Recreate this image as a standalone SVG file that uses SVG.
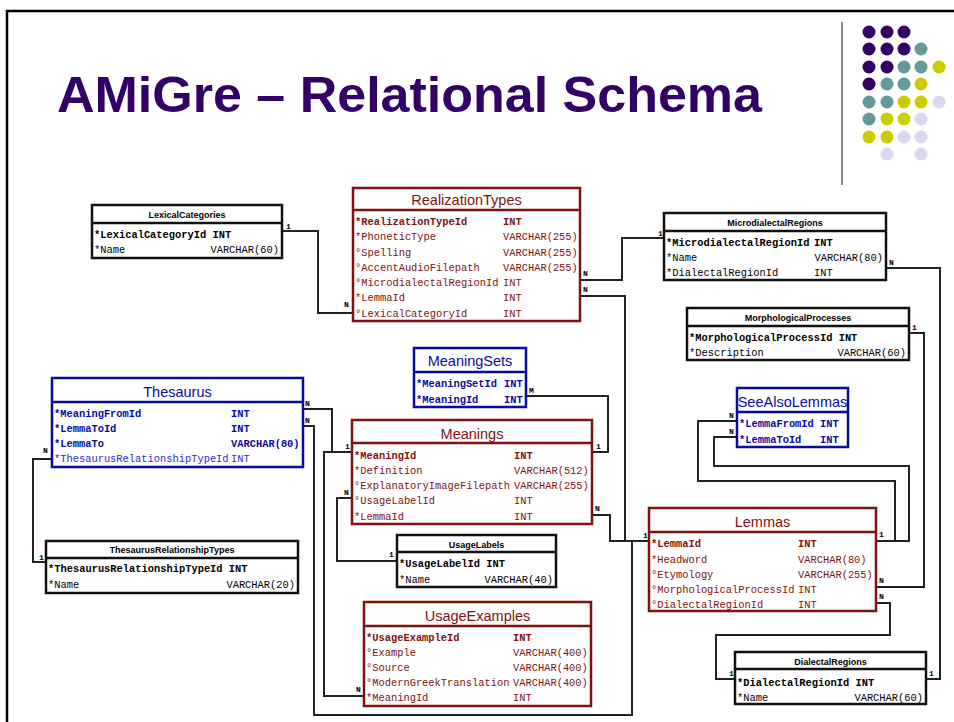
<svg xmlns="http://www.w3.org/2000/svg" width="954" height="722" viewBox="0 0 954 722">
<style>
.bg{fill:#fff}
.frame{fill:none;stroke:#000;stroke-width:2.5}
.title{font-family:"Liberation Sans",Arial,sans-serif;font-weight:bold;font-size:50px;fill:#330066}
.box{fill:#fff;stroke-width:2.5}
.red .box,.red .sep{stroke:#7f1111}
.blue .box,.blue .sep{stroke:#0a0a9e}
.blk .box,.blk .sep{stroke:#111}
.sep{stroke-width:2.5}
.ht{font-family:"Liberation Sans",Arial,sans-serif;font-size:14.5px;text-anchor:middle}
.hb{font-family:"Liberation Sans",Arial,sans-serif;font-size:9px;font-weight:bold;text-anchor:middle;fill:#000}
.red .ht,.red .f{fill:#7f1111}
.blue .ht,.blue .f{fill:#0a0a9e}
.blk .f{fill:#000}
.f{font-family:"Liberation Mono","Courier New",monospace;font-size:10.4px}
.pk{font-weight:bold}
.fk{fill:#2a2ad0 !important}
.end{text-anchor:end}
.con path{fill:none;stroke:#222;stroke-width:2}
.lb{font-family:"Liberation Mono","Courier New",monospace;font-size:8px;font-weight:bold;fill:#000}
</style>
<rect class="bg" x="0" y="0" width="954" height="722"/>
<path class="frame" d="M7,722 V11 H954"/>
<text class="title" x="57" y="112" textLength="705" lengthAdjust="spacingAndGlyphs">AMiGre – Relational Schema</text>
<line x1="842" y1="22" x2="842" y2="185" stroke="#666" stroke-width="1.5"/>
<g id="dots">
<g fill="#330066">
<circle cx="869" cy="32" r="6.5"/><circle cx="887" cy="32" r="6.5"/><circle cx="904" cy="32" r="6.5"/>
<circle cx="869" cy="49" r="6.5"/><circle cx="887" cy="49" r="6.5"/><circle cx="904" cy="49" r="6.5"/>
<circle cx="869" cy="67" r="6.5"/><circle cx="887" cy="67" r="6.5"/>
<circle cx="869" cy="84" r="6.5"/>
</g>
<g fill="#669999">
<circle cx="921" cy="49" r="6.5"/>
<circle cx="904" cy="67" r="6.5"/><circle cx="921" cy="67" r="6.5"/>
<circle cx="887" cy="84" r="6.5"/><circle cx="904" cy="84" r="6.5"/>
<circle cx="869" cy="102" r="6.5"/><circle cx="887" cy="102" r="6.5"/>
<circle cx="869" cy="119" r="6.5"/>
</g>
<g fill="#cccc00">
<circle cx="939" cy="67" r="6.5"/>
<circle cx="921" cy="84" r="6.5"/>
<circle cx="904" cy="102" r="6.5"/><circle cx="921" cy="102" r="6.5"/>
<circle cx="887" cy="119" r="6.5"/><circle cx="904" cy="119" r="6.5"/>
<circle cx="869" cy="137" r="6.5"/><circle cx="887" cy="137" r="6.5"/>
</g>
<g fill="#dadaee">
<circle cx="939" cy="102" r="6.5"/>
<circle cx="921" cy="119" r="6.5"/>
<circle cx="904" cy="137" r="6.5"/><circle cx="921" cy="137" r="6.5"/>
<circle cx="887" cy="154" r="6.5"/><circle cx="921" cy="154" r="6.5"/>
</g>
</g>

<g id="connectors" class="con">
<path d="M282,231 H318 V313 H353"/>
<path d="M580,280 H622 V238 H664"/>
<path d="M580,296 H625 V541 H649"/>
<path d="M526,396 H608 V452 H592"/>
<path d="M302,409 H332 V452 H352"/>
<path d="M302,426 H314 V715 H632 V541 H649"/>
<path d="M52,459 H33 V562 H46"/>
<path d="M352,498 H337 V561 H397"/>
<path d="M364,696 H324 V452 H352"/>
<path d="M737,421 H698 V481 H895 V541 H876"/>
<path d="M737,437 H714 V466 H909 V541 H876"/>
<path d="M876,587 H924 V333 H909"/>
<path d="M876,603 H890 V635 H716 V679 H735"/>
<path d="M886,268 H940 V679 H926"/>
<path d="M592,515 H610 V541 H649"/>
<g class="labels">
<text class="lb" x="286" y="229">1</text>
<text class="lb" x="344" y="307">N</text>
<text class="lb" x="583" y="276">N</text>
<text class="lb" x="583" y="292">N</text>
<text class="lb" x="658" y="236">1</text>
<text class="lb" x="889" y="265">N</text>
<text class="lb" x="912" y="330">1</text>
<text class="lb" x="529" y="393">M</text>
<text class="lb" x="596" y="449">1</text>
<text class="lb" x="305" y="406">N</text>
<text class="lb" x="305" y="423">N</text>
<text class="lb" x="345" y="449">1</text>
<text class="lb" x="344" y="495">N</text>
<text class="lb" x="595" y="511">N</text>
<text class="lb" x="43" y="453">N</text>
<text class="lb" x="39" y="560">1</text>
<text class="lb" x="389" y="557">1</text>
<text class="lb" x="356" y="692">N</text>
<text class="lb" x="729" y="418">N</text>
<text class="lb" x="729" y="434">N</text>
<text class="lb" x="643" y="538">1</text>
<text class="lb" x="879" y="537">1</text>
<text class="lb" x="879" y="583">N</text>
<text class="lb" x="879" y="599">N</text>
<text class="lb" x="729" y="676">1</text>
<text class="lb" x="929" y="676">1</text>
</g>
</g>

<g id="LexicalCategories" class="blk">
<rect class="box" x="92" y="205" width="190" height="53"/>
<line class="sep" x1="92" y1="223" x2="282" y2="223"/>
<text class="hb" x="187" y="217.5">LexicalCategories</text>
<text class="f pk" x="94" y="237.5">*LexicalCategoryId INT</text>
<text class="f" x="94" y="252.5">*Name</text><text class="f end" x="279" y="252.5">VARCHAR(60)</text>
</g>

<g id="RealizationTypes" class="red">
<rect class="box" x="353" y="188" width="227" height="133"/>
<line class="sep" x1="353" y1="210" x2="580" y2="210"/>
<text class="ht" x="466.5" y="205">RealizationTypes</text>
<text class="f pk" x="355" y="224.5">*RealizationTypeId</text><text class="f pk" x="503" y="224.5">INT</text>
<text class="f" x="355" y="240">*PhoneticType</text><text class="f" x="503" y="240">VARCHAR(255)</text>
<text class="f" x="355" y="255.5">°Spelling</text><text class="f" x="503" y="255.5">VARCHAR(255)</text>
<text class="f" x="355" y="270.5">°AccentAudioFilepath</text><text class="f" x="503" y="270.5">VARCHAR(255)</text>
<text class="f" x="355" y="285.5">°MicrodialectalRegionId</text><text class="f" x="503" y="285.5">INT</text>
<text class="f" x="355" y="301">*LemmaId</text><text class="f" x="503" y="301">INT</text>
<text class="f" x="355" y="316.5">°LexicalCategoryId</text><text class="f" x="503" y="316.5">INT</text>
</g>

<g id="MicrodialectalRegions" class="blk">
<rect class="box" x="664" y="213" width="222" height="67"/>
<line class="sep" x1="664" y1="231" x2="886" y2="231"/>
<text class="hb" x="775" y="225.5">MicrodialectalRegions</text>
<text class="f pk" x="666" y="245.5">*MicrodialectalRegionId</text><text class="f pk" x="814" y="245.5">INT</text>
<text class="f" x="666" y="260.5">*Name</text><text class="f end" x="883" y="260.5">VARCHAR(80)</text>
<text class="f" x="666" y="275.5">*DialectalRegionId</text><text class="f" x="814" y="275.5">INT</text>
</g>

<g id="MorphologicalProcesses" class="blk">
<rect class="box" x="687" y="308" width="222" height="52"/>
<line class="sep" x1="687" y1="326" x2="909" y2="326"/>
<text class="hb" x="798" y="320.5">MorphologicalProcesses</text>
<text class="f pk" x="689" y="340.5">*MorphologicalProcessId INT</text>
<text class="f" x="689" y="355.5">*Description</text><text class="f end" x="906" y="355.5">VARCHAR(60)</text>
</g>

<g id="MeaningSets" class="blue">
<rect class="box" x="414" y="348" width="112" height="59"/>
<line class="sep" x1="414" y1="372" x2="526" y2="372"/>
<text class="ht" x="470" y="366">MeaningSets</text>
<text class="f pk" x="416" y="386.5">*MeaningSetId</text><text class="f pk" x="504" y="386.5">INT</text>
<text class="f pk" x="416" y="402.5">*MeaningId</text><text class="f pk" x="504" y="402.5">INT</text>
</g>

<g id="Thesaurus" class="blue">
<rect class="box" x="52" y="378" width="251" height="89"/>
<line class="sep" x1="52" y1="402" x2="303" y2="402"/>
<text class="ht" x="177.5" y="397">Thesaurus</text>
<text class="f pk" x="54" y="416.5">*MeaningFromId</text><text class="f pk" x="231" y="416.5">INT</text>
<text class="f pk" x="54" y="431.5">*LemmaToId</text><text class="f pk" x="231" y="431.5">INT</text>
<text class="f pk" x="54" y="446.5">*LemmaTo</text><text class="f pk" x="231" y="446.5">VARCHAR(80)</text>
<text class="f fk" x="54" y="461.5">*ThesaurusRelationshipTypeId</text><text class="f fk" x="231" y="461.5">INT</text>
</g>

<g id="Meanings" class="red">
<rect class="box" x="352" y="420" width="240" height="104"/>
<line class="sep" x1="352" y1="443" x2="592" y2="443"/>
<text class="ht" x="472" y="439">Meanings</text>
<text class="f pk" x="354" y="458.5">*MeaningId</text><text class="f pk" x="514" y="458.5">INT</text>
<text class="f" x="354" y="473.5">*Definition</text><text class="f" x="514" y="473.5">VARCHAR(512)</text>
<text class="f" x="354" y="489">°ExplanatoryImageFilepath</text><text class="f" x="514" y="489">VARCHAR(255)</text>
<text class="f" x="354" y="504">°UsageLabelId</text><text class="f" x="514" y="504">INT</text>
<text class="f" x="354" y="519.5">*LemmaId</text><text class="f" x="514" y="519.5">INT</text>
</g>

<g id="SeeAlsoLemmas" class="blue">
<rect class="box" x="737" y="388" width="111" height="59"/>
<line class="sep" x1="737" y1="412" x2="848" y2="412"/>
<text class="ht" x="792.5" y="407">SeeAlsoLemmas</text>
<text class="f pk" x="739" y="426.5">*LemmaFromId</text><text class="f pk" x="820" y="426.5">INT</text>
<text class="f pk" x="739" y="442.5">*LemmaToId</text><text class="f pk" x="820" y="442.5">INT</text>
</g>

<g id="Lemmas" class="red">
<rect class="box" x="649" y="508" width="227" height="103"/>
<line class="sep" x1="649" y1="532" x2="876" y2="532"/>
<text class="ht" x="762.5" y="527">Lemmas</text>
<text class="f pk" x="651" y="546.5">*LemmaId</text><text class="f pk" x="798" y="546.5">INT</text>
<text class="f" x="651" y="562.5">*Headword</text><text class="f" x="798" y="562.5">VARCHAR(80)</text>
<text class="f" x="651" y="577.5">°Etymology</text><text class="f" x="798" y="577.5">VARCHAR(255)</text>
<text class="f" x="651" y="592.5">°MorphologicalProcessId</text><text class="f" x="798" y="592.5">INT</text>
<text class="f" x="651" y="608">°DialectalRegionId</text><text class="f" x="798" y="608">INT</text>
</g>

<g id="ThesaurusRelationshipTypes" class="blk">
<rect class="box" x="46" y="541" width="252" height="52"/>
<line class="sep" x1="46" y1="558" x2="298" y2="558"/>
<text class="hb" x="172" y="553">ThesaurusRelationshipTypes</text>
<text class="f pk" x="48" y="571.5">*ThesaurusRelationshipTypeId INT</text>
<text class="f" x="48" y="587.5">*Name</text><text class="f end" x="295" y="587.5">VARCHAR(20)</text>
</g>

<g id="UsageLabels" class="blk">
<rect class="box" x="397" y="535" width="159" height="52"/>
<line class="sep" x1="397" y1="552" x2="556" y2="552"/>
<text class="hb" x="476.5" y="547.5">UsageLabels</text>
<text class="f pk" x="399" y="566.5">*UsageLabelId INT</text>
<text class="f" x="399" y="582.5">*Name</text><text class="f end" x="553" y="582.5">VARCHAR(40)</text>
</g>

<g id="UsageExamples" class="red">
<rect class="box" x="364" y="602" width="227" height="104"/>
<line class="sep" x1="364" y1="626" x2="591" y2="626"/>
<text class="ht" x="477.5" y="621">UsageExamples</text>
<text class="f pk" x="366" y="640.5">*UsageExampleId</text><text class="f pk" x="513" y="640.5">INT</text>
<text class="f" x="366" y="655.5">°Example</text><text class="f" x="513" y="655.5">VARCHAR(400)</text>
<text class="f" x="366" y="670.5">°Source</text><text class="f" x="513" y="670.5">VARCHAR(400)</text>
<text class="f" x="366" y="686">°ModernGreekTranslation</text><text class="f" x="513" y="686">VARCHAR(400)</text>
<text class="f" x="366" y="701">*MeaningId</text><text class="f" x="513" y="701">INT</text>
</g>

<g id="DialectalRegions" class="blk">
<rect class="box" x="735" y="652" width="191" height="52"/>
<line class="sep" x1="735" y1="669" x2="926" y2="669"/>
<text class="hb" x="830.5" y="664.5">DialectalRegions</text>
<text class="f pk" x="737" y="685.5">*DialectalRegionId INT</text>
<text class="f" x="737" y="700.5">*Name</text><text class="f end" x="923" y="700.5">VARCHAR(60)</text>
</g>
</svg>
